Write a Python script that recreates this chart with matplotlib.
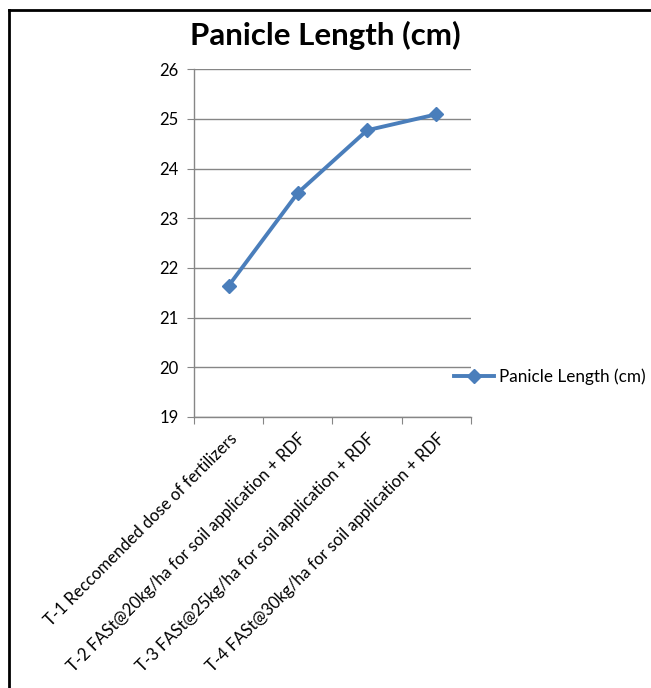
"""Panicle length line chart (Excel style)."""

import matplotlib

matplotlib.use('Agg')
import matplotlib.pyplot as plt
from matplotlib.lines import Line2D

treatments = [
    'T-1 Reccomended dose of fertilizers',
    'T-2 FASt@20kg/ha for soil application + RDF',
    'T-3 FASt@25kg/ha for soil application + RDF',
    'T-4 FASt@30kg/ha for soil application + RDF',
]
panicle_length = [21.64, 23.51, 24.77, 25.09]
y_ticks = [19, 20, 21, 22, 23, 24, 25, 26]
series_name = 'Panicle Length (cm)'

plt.rcParams['font.family'] = ['Lato', 'DejaVu Sans']
blue = '#4A7EBB'
grid_grey = '#868686'

fig = plt.figure(figsize=(6.51, 6.88), dpi=100)
ax = fig.add_axes([0.298, 0.394, 0.4255, 0.5055])

x = list(range(len(treatments)))
ax.plot(x, panicle_length, color=blue, linewidth=2.8, marker='D', markersize=7.5,
        label=series_name)

ax.set_xlim(-0.5, len(treatments) - 0.5)
ax.set_ylim(19, 26)
ax.set_yticks(y_ticks)
ax.set_yticklabels([str(v) for v in y_ticks], fontsize=12)
ax.yaxis.grid(True, color=grid_grey, linewidth=1.0)
ax.set_axisbelow(True)

# category boundaries get the ticks, labels sit at the centres
ax.set_xticks([i - 0.5 for i in range(len(treatments) + 1)])
ax.set_xticklabels([])
ax.set_xticks(x, minor=True)
ax.set_xticklabels(treatments, minor=True, rotation=45, ha='right',
                   rotation_mode='anchor', fontsize=12)
ax.tick_params(axis='x', which='minor', length=0, pad=10)
ax.tick_params(axis='x', which='major', length=5, color=grid_grey, direction='out')
ax.tick_params(axis='y', length=5, color=grid_grey, direction='out', pad=6)

for side in ['top', 'right']:
    ax.spines[side].set_visible(False)
for side in ['left', 'bottom']:
    ax.spines[side].set_color(grid_grey)
    ax.spines[side].set_linewidth(1.0)

fig.text(0.5, 0.948, series_name, ha='center', va='center', fontsize=22.5,
         fontweight='bold')

handle = Line2D([], [], color=blue, linewidth=2.8, marker='D', markersize=7.5)
fig.legend([handle], [series_name], loc='center left',
           bbox_to_anchor=(0.674, 1 - 377 / 688), frameon=False, fontsize=12.3,
           handlelength=2.35, handletextpad=0.25)

# chart border: only the left and top edges show in the crop
fig.add_artist(Line2D([9 / 651, 9 / 651], [0, 1 - 10 / 688], color='black',
                      linewidth=2, transform=fig.transFigure))
fig.add_artist(Line2D([9 / 651, 1], [1 - 10 / 688, 1 - 10 / 688], color='black',
                      linewidth=2, transform=fig.transFigure))

fig.savefig('out.png', dpi=100, facecolor='white')
plt.close(fig)
